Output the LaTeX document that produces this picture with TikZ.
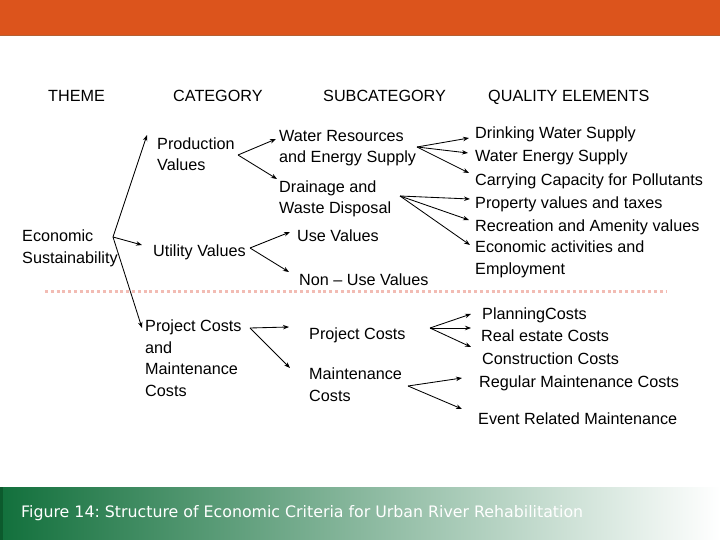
\documentclass[tikz,border=0pt]{standalone}
\usepackage{fontspec}
\setmainfont{Liberation Sans}
\newfontfamily\capfont{DejaVu Sans}
\usetikzlibrary{arrows.meta}
\frenchspacing
\definecolor{barorange}{RGB}{220,84,28}
\definecolor{barline}{RGB}{180,96,50}
\definecolor{darkgreen}{RGB}{18,112,60}
\definecolor{edgegreen}{RGB}{12,90,45}
\definecolor{dotpink}{RGB}{242,188,180}
\tikzset{
  lbl/.style={anchor=base west, inner sep=0pt, align=left, font=\fontsize{16.2}{21.5}\selectfont, text=black},
  hdr/.style={lbl},
  arr/.style={-{Stealth[length=6pt,width=4.5pt]}, line width=0.85pt, black},
}
\begin{document}
\begin{tikzpicture}[x=1pt,y=-1pt]
\useasboundingbox (0,0) rectangle (720,540);
% top bar
\fill[barorange] (0,0) rectangle (720,36);
\draw[barline, line width=1pt] (0,36) -- (720,36);
% bottom bar
\shade[left color=darkgreen, right color=white] (0,487) rectangle (720,540);
\fill[edgegreen] (0,487) rectangle (3,540);
\node[anchor=base west, inner sep=0pt, text=white, font=\capfont\fontsize{15.8}{18}\selectfont] (cap) at (21,517) {Figure 14: Structure of Economic Criteria for Urban River Rehabilitation};
% headers
\node[hdr] (hTheme) at (48,102) {THEME};
\node[hdr] (hCat) at (173,102) {CATEGORY};
\node[hdr] (hSub) at (323,102) {SUBCATEGORY};
\node[hdr] (hQual) at (488,102) {QUALITY ELEMENTS};
% theme (base = last line)
\node[lbl] (econ) at (22,263) {Economic\\Sustainability};
% categories
\node[lbl] (prod) at (157,171) {Production\\Values};
\node[lbl] (util) at (153,256) {Utility Values};
\node[lbl] (pcm) at (145,396) {Project Costs\\and\\Maintenance\\Costs};
% subcategories
\node[lbl] (water) at (279,163) {Water Resources\\and Energy Supply};
\node[lbl] (drain) at (279,214) {Drainage and\\Waste Disposal};
\node[lbl] (use) at (297,241) {Use Values};
\node[lbl] (nonuse) at (299,285) {Non -- Use Values};
\node[lbl] (pcost) at (309,339) {Project Costs};
\node[lbl] (mcost) at (309,401) {Maintenance\\Costs};
% quality elements
\node[lbl] (q1) at (475,139) {Drinking Water Supply};
\node[lbl] (q2) at (475,162) {Water Energy Supply};
\node[lbl] (q3) at (475,186) {Carrying Capacity for Pollutants};
\node[lbl] (q4) at (475,208) {Property values and taxes};
\node[lbl] (q5) at (475,231) {Recreation and Amenity values};
\node[lbl] (q6) at (475,274) {Economic activities and\\Employment};
\node[lbl] (q7) at (482,319) {PlanningCosts};
\node[lbl] (q8) at (481,341) {Real estate Costs};
\node[lbl] (q9) at (482,364) {Construction Costs};
\node[lbl] (q10) at (479,387) {Regular Maintenance Costs};
\node[lbl] (q11) at (478,424) {Event Related Maintenance};
% dotted separator
\draw[dotpink, line width=3pt, dash pattern=on 3pt off 2.8pt] (45,291) -- (666,291);
% fan origins
\coordinate (econO) at (113,237);
\coordinate (prodO) at (238,155);
\coordinate (utilO) at (250,248);
\coordinate (pcmO) at (250,328);
\coordinate (waterO) at (417,147);
\coordinate (drainO) at (400,196);
\coordinate (pcostO) at (430,328);
\coordinate (mcostO) at (408,386);
% arrows
\draw[arr] (econO) -- ([shift={(-10,-36)}]prod.base west);
\draw[arr] (econO) -- ([shift={(-11,-11)}]util.base west);
\draw[arr] (econO) -- ([shift={(-3,-68)}]pcm.base west);
\draw[arr] (prodO) -- ([shift={(-3,-24)}]water.base west);
\draw[arr] (prodO) -- ([shift={(-2,-35)}]drain.base west);
\draw[arr] (utilO) -- ([shift={(-7,-9)}]use.base west);
\draw[arr] (utilO) -- ([shift={(-10,-13)}]nonuse.base west);
\draw[arr] (pcmO) -- ([shift={(-20,-12)}]pcost.base west);
\draw[arr] (pcmO) -- ([shift={(-19,-33)}]mcost.base west);
\draw[arr] (waterO) -- ([shift={(-6,-1)}]q1.base west);
\draw[arr] (waterO) -- ([shift={(-7,-9)}]q2.base west);
\draw[arr] (waterO) -- ([shift={(-6,-13)}]q3.base west);
\draw[arr] (drainO) -- ([shift={(-5,-9)}]q4.base west);
\draw[arr] (drainO) -- ([shift={(-6,-11)}]q5.base west);
\draw[arr] (drainO) -- ([shift={(-5,-29)}]q6.base west);
\draw[arr] (pcostO) -- ([shift={(-11,-5)}]q7.base west);
\draw[arr] (pcostO) -- ([shift={(-10,-13)}]q8.base west);
\draw[arr] (pcostO) -- ([shift={(-11,-17)}]q9.base west);
\draw[arr] (mcostO) -- ([shift={(-17,-9)}]q10.base west);
\draw[arr] (mcostO) -- ([shift={(-16,-15)}]q11.base west);
\end{tikzpicture}
\end{document}
